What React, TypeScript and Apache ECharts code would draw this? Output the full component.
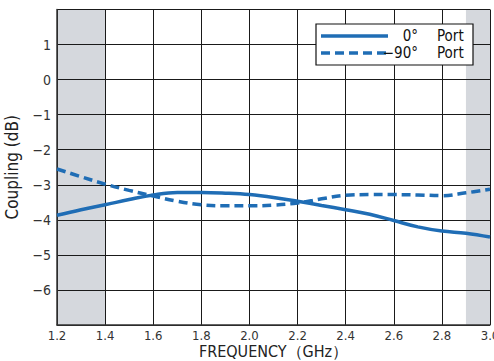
import React, { useEffect, useRef } from "react";
import * as echarts from "echarts";

const freqs = [1.2, 1.3, 1.4, 1.5, 1.6, 1.7, 1.8, 1.9, 2.0, 2.1, 2.2, 2.3, 2.4, 2.5, 2.6, 2.7, 2.8, 2.9, 3.0];
const port0 = [-3.87, -3.71, -3.57, -3.42, -3.29, -3.22, -3.22, -3.24, -3.28, -3.36, -3.47, -3.59, -3.71, -3.84, -4.02, -4.2, -4.32, -4.38, -4.49];
const port90 = [-2.55, -2.77, -2.98, -3.16, -3.32, -3.47, -3.57, -3.6, -3.6, -3.58, -3.52, -3.4, -3.3, -3.28, -3.28, -3.29, -3.31, -3.23, -3.13];
const bands = [[1.2, 1.4], [2.9, 3.0]];
const seriesNames = ["0°", "−90°"];
const title = "Coupling";
const xName = "FREQUENCY（GHz）";
const yName = "Coupling (dB)";

const BLUE = "#1f6db5";
const FONT = "'Liberation Sans Narrow', 'DejaVu Sans Condensed', 'Liberation Sans', sans-serif";

export default function App() {
  const ref = useRef<HTMLDivElement>(null);
  useEffect(() => {
    if (!ref.current) return;
    const chart = echarts.init(ref.current, null, { renderer: "svg" });
    const gridLine = { show: true, lineStyle: { color: "#1a1a1a", width: 1 } };
    const legendText = (text: string, x: number, y: number, align: string) => ({
      type: "text",
      z: 11,
      x,
      y,
      style: { text, fill: "#111", font: "15px " + FONT, lineHeight: 14, textAlign: align, textVerticalAlign: "middle" },
    });
    chart.setOption({
      animation: false,
      grid: { left: 57, right: 4, top: 9.5, bottom: 36, containLabel: false, outerBoundsMode: "none" },
      xAxis: {
        type: "value",
        min: 1.2,
        max: 3.0,
        interval: 0.2,
        z: 3,
        name: xName,
        nameLocation: "middle",
        nameGap: 18,
        nameMoveOverlap: false,
        nameTextStyle: { fontFamily: FONT, fontSize: 16, color: "#222", lineHeight: 16 },
        axisLine: { show: true, onZero: false, lineStyle: { color: "#333", width: 1.5 } },
        axisTick: { show: false },
        axisLabel: {
          margin: 4,
          fontFamily: FONT,
          fontSize: 13,
          lineHeight: 12,
          color: "#333",
          formatter: (v: number) => v.toFixed(1),
        },
        splitLine: gridLine,
      },
      yAxis: {
        type: "value",
        min: -7,
        max: 2,
        interval: 1,
        z: 3,
        name: yName,
        nameLocation: "middle",
        nameGap: 37,
        nameMoveOverlap: false,
        nameTextStyle: { fontFamily: FONT, fontSize: 17, color: "#222" },
        axisLine: { show: true, onZero: false, lineStyle: { color: "#333", width: 1.5 } },
        axisTick: { show: false },
        axisLabel: {
          margin: 6,
          fontFamily: FONT,
          fontSize: 14,
          color: "#333",
          formatter: (v: number) => (v === 2 || v === -7 ? "" : String(v).replace("-", "−")),
        },
        splitLine: gridLine,
      },
      series: [
        {
          type: "line",
          name: "bands",
          data: [],
          z: 1,
          silent: true,
          markArea: {
            silent: true,
            itemStyle: { color: "#d5d8dd", opacity: 1 },
            data: bands.map((b) => [{ xAxis: b[0] }, { xAxis: b[1] }]),
          },
        },
        {
          type: "line",
          name: seriesNames[0],
          z: 5,
          smooth: 0.4,
          showSymbol: false,
          lineStyle: { color: BLUE, width: 3.5 },
          data: freqs.map((f, i) => [f, port0[i]]),
        },
        {
          type: "line",
          name: seriesNames[1],
          z: 5,
          smooth: 0.4,
          showSymbol: false,
          lineStyle: { color: BLUE, width: 3.5, type: [9, 5] },
          data: freqs.map((f, i) => [f, port90[i]]),
        },
      ],
      graphic: [
        {
          type: "text",
          x: 273,
          y: -10.5,
          z: 10,
          style: {
            text: title,
            fill: BLUE,
            font: "bold 18px " + FONT,
            textAlign: "center",
            textVerticalAlign: "middle",
          },
        },
        {
          type: "rect",
          z: 10,
          shape: { x: 316, y: 24, width: 157, height: 41 },
          style: { fill: "#fff", stroke: "#111", lineWidth: 1.2 },
        },
        {
          type: "line",
          z: 11,
          shape: { x1: 321, y1: 36, x2: 388, y2: 36 },
          style: { stroke: BLUE, lineWidth: 3.5 },
        },
        {
          type: "line",
          z: 11,
          shape: { x1: 321, y1: 53, x2: 388, y2: 53 },
          style: { stroke: BLUE, lineWidth: 3.5, lineDash: [9, 5] },
        },
        legendText(seriesNames[0], 418, 36, "right"),
        legendText(seriesNames[1], 418, 53, "right"),
        legendText("Port", 437, 36, "left"),
        legendText("Port", 437, 53, "left"),
      ],
    });
    return () => chart.dispose();
  }, []);
  return <div ref={ref} style={{ width: 494, height: 361, position: "absolute", left: 0, top: 0 }} />;
}
